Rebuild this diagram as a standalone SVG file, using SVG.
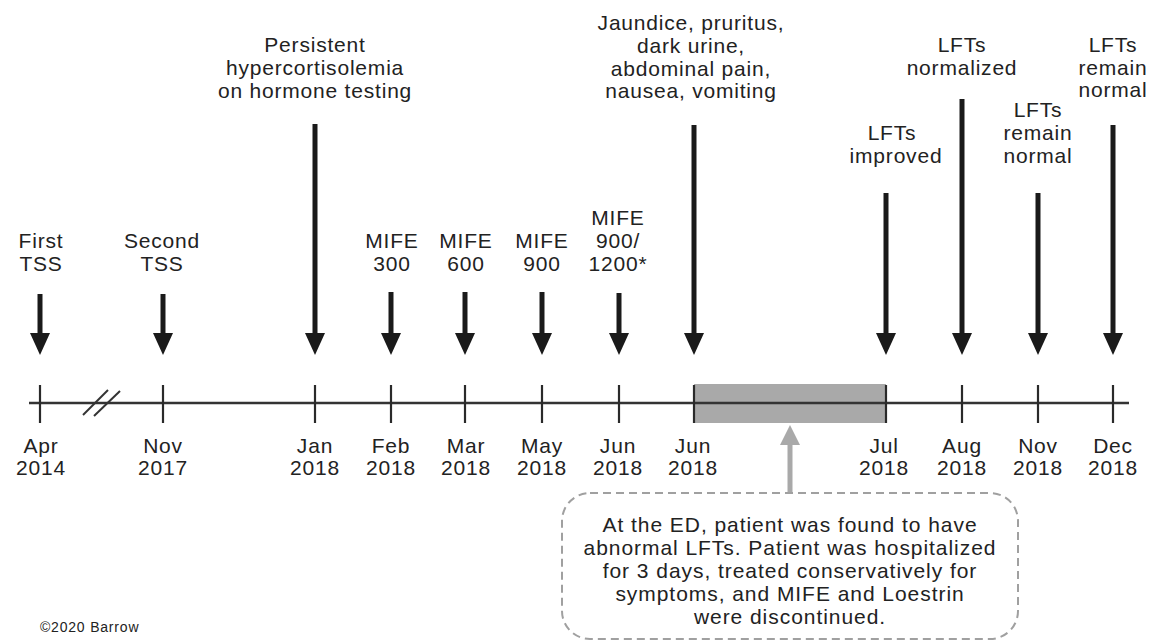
<svg xmlns="http://www.w3.org/2000/svg" width="1153" height="642" viewBox="0 0 1153 642">
<style>
text{font-family:"Liberation Sans",Arial,sans-serif;font-size:21px;letter-spacing:0.8px;fill:#222;text-anchor:middle}
.shaft{stroke:#1a1a1a;stroke-width:5;marker-end:url(#ah)}
.tick{stroke:#2a2a2a;stroke-width:2.2}
.axis{stroke:#333;stroke-width:2.5}
.note{letter-spacing:0.95px}
.small{font-size:14px;letter-spacing:0.8px;text-anchor:start}
</style>
<defs>
<marker id="ah" viewBox="0 0 22 20" refX="7" refY="10" markerWidth="22" markerHeight="20" markerUnits="userSpaceOnUse" orient="auto">
<path d="M0,0 L22,10 L0,20 Z" fill="#1a1a1a"/>
</marker>
<marker id="gh" viewBox="0 0 20 20" refX="5" refY="10" markerWidth="20" markerHeight="20" markerUnits="userSpaceOnUse" orient="auto">
<path d="M0,0 L20,10 L0,20 Z" fill="#a9a9a9"/>
</marker>
</defs>
<rect width="1153" height="642" fill="#fff"/>

<g id="timeline">
<rect x="694" y="384" width="192" height="39" fill="#a9a9a9"/>
<line class="axis" x1="29" y1="403" x2="1129" y2="403"/>
<line x1="83" y1="415" x2="108" y2="390" stroke="#333" stroke-width="2"/>
<line x1="94" y1="416" x2="120" y2="391" stroke="#333" stroke-width="2"/>
</g>

<g id="connectors">
<line class="shaft" x1="40" y1="294" x2="40" y2="340"/>
<line class="shaft" x1="163" y1="294" x2="163" y2="340"/>
<line class="shaft" x1="315" y1="124" x2="315" y2="340"/>
<line class="shaft" x1="391" y1="292" x2="391" y2="340"/>
<line class="shaft" x1="465" y1="292" x2="465" y2="340"/>
<line class="shaft" x1="542" y1="292" x2="542" y2="340"/>
<line class="shaft" x1="619" y1="293" x2="619" y2="340"/>
<line class="shaft" x1="694" y1="125" x2="694" y2="340"/>
<line class="shaft" x1="886" y1="193" x2="886" y2="340"/>
<line class="shaft" x1="962" y1="99" x2="962" y2="340"/>
<line class="shaft" x1="1038" y1="193" x2="1038" y2="340"/>
<line class="shaft" x1="1113" y1="125" x2="1113" y2="340"/>
<line x1="790" y1="493" x2="790" y2="440" stroke="#a9a9a9" stroke-width="5" marker-end="url(#gh)"/>
</g>

<g id="t-apr2014"><line class="tick" x1="40" y1="385" x2="40" y2="423"/><text x="41" y="453">Apr</text><text x="41" y="475">2014</text><text x="41" y="248">First</text><text x="41" y="271">TSS</text></g>
<g id="t-nov2017"><line class="tick" x1="163" y1="385" x2="163" y2="423"/><text x="163" y="453">Nov</text><text x="163" y="475">2017</text><text x="162" y="248">Second</text><text x="162" y="271">TSS</text></g>
<g id="t-jan2018"><line class="tick" x1="315" y1="385" x2="315" y2="423"/><text x="315" y="453">Jan</text><text x="315" y="475">2018</text><text x="315" y="52">Persistent</text><text x="315" y="75">hypercortisolemia</text><text x="315" y="98">on hormone testing</text></g>
<g id="t-feb2018"><line class="tick" x1="391" y1="385" x2="391" y2="423"/><text x="391" y="453">Feb</text><text x="391" y="475">2018</text><text x="392" y="248">MIFE</text><text x="392" y="271">300</text></g>
<g id="t-mar2018"><line class="tick" x1="465" y1="385" x2="465" y2="423"/><text x="466" y="453">Mar</text><text x="466" y="475">2018</text><text x="466" y="248">MIFE</text><text x="466" y="271">600</text></g>
<g id="t-may2018"><line class="tick" x1="542" y1="385" x2="542" y2="423"/><text x="542" y="453">May</text><text x="542" y="475">2018</text><text x="542" y="248">MIFE</text><text x="542" y="271">900</text></g>
<g id="t-jun2018a"><line class="tick" x1="619" y1="385" x2="619" y2="423"/><text x="618" y="453">Jun</text><text x="618" y="475">2018</text><text x="618" y="225">MIFE</text><text x="618" y="248">900/</text><text x="618" y="271">1200*</text></g>
<g id="t-jun2018b"><line class="tick" x1="694" y1="385" x2="694" y2="423"/><text x="693" y="453">Jun</text><text x="693" y="475">2018</text><text x="691" y="30">Jaundice, pruritus,</text><text x="691" y="53">dark urine,</text><text x="691" y="76">abdominal pain,</text><text x="691" y="98">nausea, vomiting</text></g>
<g id="t-jul2018"><line class="tick" x1="886" y1="385" x2="886" y2="423"/><text x="884" y="453">Jul</text><text x="884" y="475">2018</text><text x="892" y="140">LFTs</text><text x="896" y="163">improved</text></g>
<g id="t-aug2018"><line class="tick" x1="962" y1="385" x2="962" y2="423"/><text x="962" y="453">Aug</text><text x="962" y="475">2018</text><text x="962" y="52">LFTs</text><text x="962" y="75">normalized</text></g>
<g id="t-nov2018"><line class="tick" x1="1038" y1="385" x2="1038" y2="423"/><text x="1038" y="453">Nov</text><text x="1038" y="475">2018</text><text x="1038" y="117">LFTs</text><text x="1038" y="140">remain</text><text x="1038" y="163">normal</text></g>
<g id="t-dec2018"><line class="tick" x1="1113" y1="385" x2="1113" y2="423"/><text x="1113" y="453">Dec</text><text x="1113" y="475">2018</text><text x="1113" y="52">LFTs</text><text x="1113" y="75">remain</text><text x="1113" y="97">normal</text></g>

<g id="callout">
<rect x="562" y="493" width="456" height="146" rx="28" fill="#fff" stroke="#a0a0a0" stroke-width="2" stroke-dasharray="8 5"/>
<text class="note" x="790" y="532">At the ED, patient was found to have</text>
<text class="note" x="790" y="555">abnormal LFTs. Patient was hospitalized</text>
<text class="note" x="790" y="578">for 3 days, treated conservatively for</text>
<text class="note" x="790" y="601">symptoms, and MIFE and Loestrin</text>
<text class="note" x="790" y="624">were discontinued.</text>
</g>

<text class="small" x="40" y="632">©2020 Barrow</text>
</svg>
